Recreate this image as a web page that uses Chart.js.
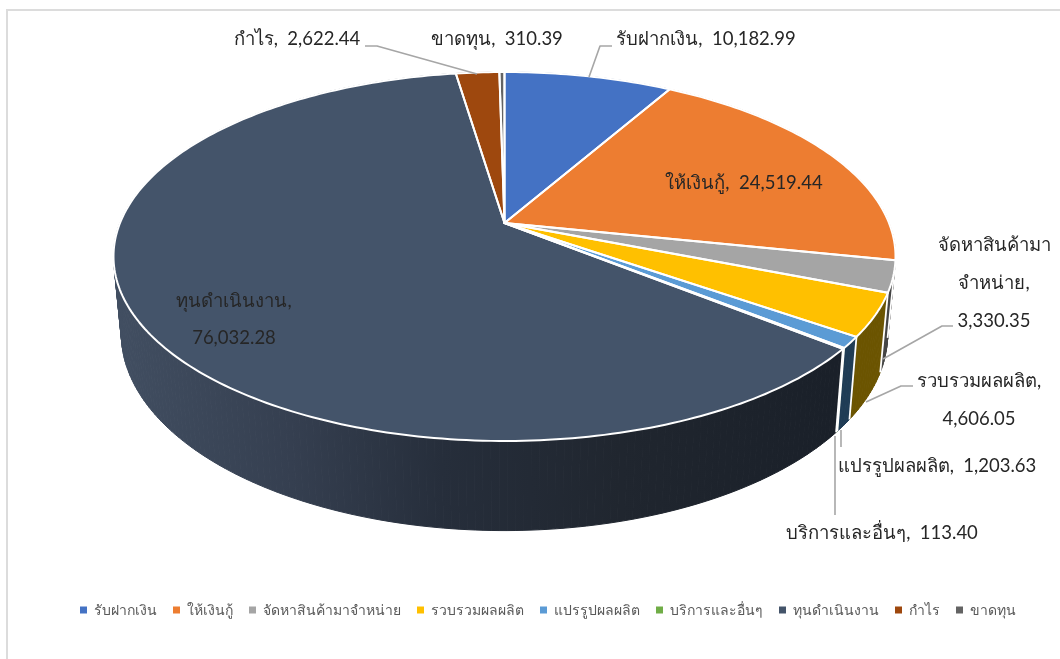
<!DOCTYPE html>
<html lang="th">
<head>
  <meta charset="UTF-8">
  <title>Pie 3D</title>
  <script src="https://cdn.jsdelivr.net/npm/chart.js"></script>
  <style>
    body { margin: 0; background: #fff; }
    #frame {
      position: absolute; left: 6px; top: 9px; right: 0; bottom: 0;
      border-left: 2px solid #dcdcdc; border-top: 2px solid #dcdcdc;
    }
    #pie { position: absolute; left: 0; top: 0; }
  </style>
</head>
<body>
  <div id="frame"></div>
  <canvas id="pie" width="1060" height="659"></canvas>

  <script>
    const categories = ['รับฝากเงิน', 'ให้เงินกู้', 'จัดหาสินค้ามาจำหน่าย', 'รวบรวมผลผลิต', 'แปรรูปผลผลิต', 'บริการและอื่นๆ', 'ทุนดำเนินงาน', 'กำไร', 'ขาดทุน'];
    const values = [10182.99, 24519.44, 3330.35, 4606.05, 1203.63, 113.40, 76032.28, 2622.44, 310.39];
    const faceColors = ['#4472C4', '#ED7D31', '#A5A5A5', '#FFC000', '#5B9BD5', '#70AD47', '#44546A', '#9E480E', '#636363'];
    const sideColors = ['#2f528f', '#ae5a21', '#454545', '#6b5400', '#1f3c55', '#4d7a30', null, '#6e320a', '#444444'];

    // perspective of the top face: apex, radius, y radius, tilt
    const CX = 504.5, CY = 223, R = 384.5, RY = 178.4, TILT = 0.1816;
    // bottom face relative to the top face
    const BOTTOM_Y = 298, BOTTOM_SX = 0.98, BOTTOM_SY = 1.067;

    function topPoint(theta) {
      const x = Math.sin(theta), y = -Math.cos(theta), w = 1 - TILT * y;
      return [CX + R * x / w, CY + RY * y / w];
    }
    function bottomPoint(theta) {
      const p = topPoint(theta);
      return [CX + BOTTOM_SX * (p[0] - CX), BOTTOM_Y + BOTTOM_SY * (p[1] - CY)];
    }

    // data labels: text lines (V = the value), centre x, line centres y, leader line
    const labelSpots = [
      { lines: [0], x: 706, ys: [39], leader: [[612, 46], [600, 46], [589, 77]] },
      { lines: [0], x: 744, ys: [183] },
      { lines: ['จัดหาสินค้ามา', 'จำหน่าย,', 'V'], x: 994, ys: [245, 283, 321], leader: [[953, 326], [942, 326], [883, 359]] },
      { lines: ['รวบรวมผลผลิต,', 'V'], x: 979, ys: [381, 419], leader: [[913, 386], [901, 386], [866, 402]] },
      { lines: [0], x: 937, ys: [466], leader: [[841, 447], [841, 430]] },
      { lines: [0], x: 882, ys: [533], leader: [[835, 515], [835, 436]] },
      { lines: ['ทุนดำเนินงาน,', 'V'], x: 234, ys: [301, 338] },
      { lines: [0], x: 297, ys: [39], leader: [[365, 46], [377, 46], [477, 74]] },
      { lines: [0], x: 497, ys: [39] }
    ];

    const money = v => v.toLocaleString('en-US', { minimumFractionDigits: 2, maximumFractionDigits: 2 });

    function sideFill(ctx, i) {
      if (sideColors[i]) return sideColors[i];
      const g = ctx.createLinearGradient(120, 0, 835, 0);
      g.addColorStop(0, '#414e61');
      g.addColorStop(0.24, '#353f50');
      g.addColorStop(0.45, '#262e3b');
      g.addColorStop(0.7, '#20262f');
      g.addColorStop(1, '#1a2029');
      return g;
    }

    const pie3d = {
      id: 'pie3d',
      beforeDatasetsDraw(chart) {
        const ctx = chart.ctx;
        const arcs = chart.getDatasetMeta(0).data;
        const spans = arcs.map(a => [a.startAngle + Math.PI / 2, a.endAngle + Math.PI / 2]);
        const STEP = Math.PI / 180;
        ctx.save();

        // rim, slice by slice, small quads so the fold at the edge fills properly
        spans.forEach(([a0, a1], i) => {
          const fill = sideFill(ctx, i);
          ctx.fillStyle = fill;
          ctx.strokeStyle = fill;
          ctx.lineWidth = 1;
          const n = Math.max(1, Math.ceil((a1 - a0) / STEP));
          for (let k = 0; k < n; k++) {
            const t0 = a0 + (a1 - a0) * k / n, t1 = a0 + (a1 - a0) * (k + 1) / n;
            ctx.beginPath();
            ctx.moveTo(...topPoint(t0));
            ctx.lineTo(...topPoint(t1));
            ctx.lineTo(...bottomPoint(t1));
            ctx.lineTo(...bottomPoint(t0));
            ctx.closePath();
            ctx.fill();
            ctx.stroke();
          }
        });
        // white seams on the rim
        ctx.strokeStyle = '#fff';
        ctx.lineWidth = 1.8;
        spans.forEach(([a0]) => {
          ctx.beginPath();
          ctx.moveTo(...topPoint(a0));
          ctx.lineTo(...bottomPoint(a0));
          ctx.stroke();
        });

        // top face
        spans.forEach(([a0, a1], i) => {
          ctx.beginPath();
          ctx.moveTo(CX, CY);
          const n = Math.max(2, Math.ceil((a1 - a0) / STEP));
          for (let k = 0; k <= n; k++) ctx.lineTo(...topPoint(a0 + (a1 - a0) * k / n));
          ctx.closePath();
          ctx.fillStyle = faceColors[i];
          ctx.fill();
        });
        ctx.strokeStyle = '#fff';
        ctx.lineWidth = 2;
        ctx.lineJoin = 'round';
        spans.forEach(([a0, a1]) => {
          ctx.beginPath();
          ctx.moveTo(CX, CY);
          const n = Math.max(2, Math.ceil((a1 - a0) / STEP));
          for (let k = 0; k <= n; k++) ctx.lineTo(...topPoint(a0 + (a1 - a0) * k / n));
          ctx.closePath();
          ctx.stroke();
        });

        // leader lines and labels
        ctx.strokeStyle = '#a6a6a6';
        ctx.lineWidth = 1.6;
        labelSpots.forEach(s => {
          if (!s.leader) return;
          ctx.beginPath();
          s.leader.forEach((p, k) => k ? ctx.lineTo(p[0], p[1]) : ctx.moveTo(p[0], p[1]));
          ctx.stroke();
        });
        ctx.font = '18.5px Lato, sans-serif';
        ctx.fillStyle = '#262626';
        ctx.textAlign = 'center';
        ctx.textBaseline = 'middle';
        labelSpots.forEach((s, i) => {
          s.lines.forEach((line, k) => {
            const text = line === 0 ? categories[i] + ',  ' + money(values[i]) : line === 'V' ? money(values[i]) : line;
            ctx.fillText(text, s.x, s.ys[k]);
          });
        });
        ctx.restore();
        return false;
      }
    };

    new Chart(document.getElementById('pie'), {
      type: 'pie',
      data: {
        labels: categories,
        datasets: [{ data: values, backgroundColor: faceColors, borderWidth: 0 }]
      },
      options: {
        responsive: false,
        animation: false,
        layout: { padding: { left: 36, bottom: 32 } },
        plugins: {
          tooltip: { enabled: false },
          legend: {
            position: 'bottom',
            labels: {
              boxWidth: 7,
              boxHeight: 7,
              padding: 16,
              color: '#595959',
              font: { family: 'Lato, sans-serif', size: 14 }
            }
          }
        }
      },
      plugins: [pie3d]
    });
  </script>
</body>
</html>
